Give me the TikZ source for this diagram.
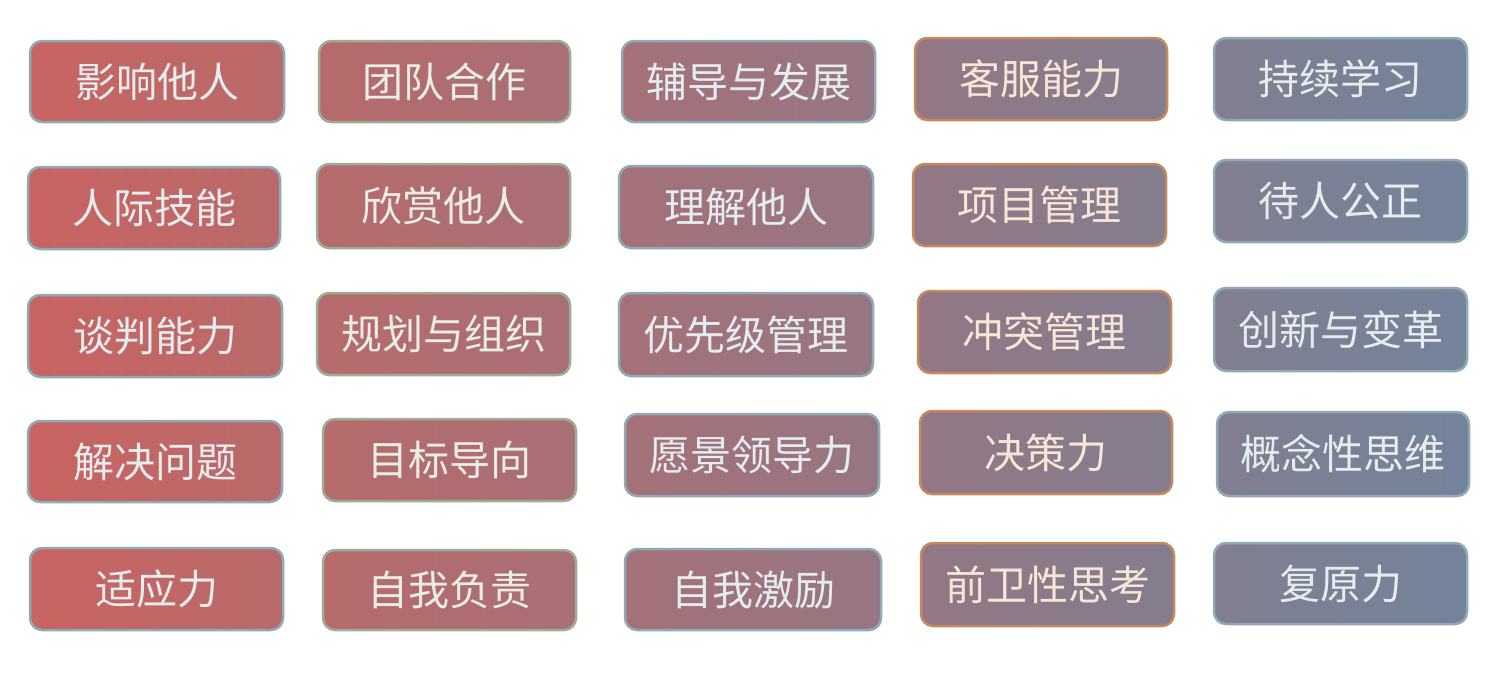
\documentclass[tikz,border=0pt]{standalone}
\usepackage{fontspec}
\newfontfamily\cjk{Noto Sans CJK SC}
\definecolor{gA}{HTML}{C86461}
\definecolor{gB}{HTML}{73839A}
\definecolor{bdBlue}{HTML}{8FAAB2}
\definecolor{bdGreen}{HTML}{9CAD92}
\definecolor{bdOrange}{HTML}{C48A5E}
\definecolor{txBlue}{HTML}{E4ECEE}
\definecolor{txGreen}{HTML}{E8EEE2}
\definecolor{txOrange}{HTML}{F6E6D6}
\tikzset{
  chip/.style={rounded corners=12pt, line width=2.5pt, inner sep=0pt,
    font=\cjk\fontsize{41}{46}\selectfont},
  colA/.style={chip, draw=bdBlue, text=txBlue, left color=gA!100!gB, right color=gA!83!gB},
  colB/.style={chip, draw=bdGreen, text=txGreen, left color=gA!80!gB, right color=gA!63!gB},
  colC/.style={chip, draw=bdBlue, text=txBlue, left color=gA!59!gB, right color=gA!41!gB},
  colD/.style={chip, draw=bdOrange, text=txOrange, left color=gA!38!gB, right color=gA!20!gB},
  colE/.style={chip, draw=bdBlue, text=txBlue, left color=gA!17!gB, right color=gA!0!gB},
}
% \cbox{name}{style}{left}{top}{right}{bottom}{text}
\newcommand{\cbox}[7]{%
  \node[#2, minimum width={#5-#3}, minimum height={#6-#4}] (#1) at ({(#3+#5)/2},{(#4+#6)/2}) {#7};}
\begin{document}
\begin{tikzpicture}[x=1pt,y=-1pt]
\useasboundingbox (0,0) rectangle (1493,673);
% row 1
\cbox{a1}{colA}{30}{41}{284}{122}{影响他人}
\cbox{b1}{colB}{319}{41}{570}{122}{团队合作}
\cbox{c1}{colC}{622}{41}{875}{122}{辅导与发展}
\cbox{d1}{colD}{915}{38}{1167}{120}{客服能力}
\cbox{e1}{colE}{1214}{38}{1467}{120}{持续学习}
% row 2
\cbox{a2}{colA}{28}{167}{280}{249}{人际技能}
\cbox{b2}{colB}{317}{164}{570}{248}{欣赏他人}
\cbox{c2}{colC}{619}{166}{873}{248}{理解他人}
\cbox{d2}{colD}{913}{164}{1166}{246}{项目管理}
\cbox{e2}{colE}{1214}{160}{1467}{242}{待人公正}
% row 3
\cbox{a3}{colA}{28}{295}{282}{377}{谈判能力}
\cbox{b3}{colB}{317}{293}{570}{375}{规划与组织}
\cbox{c3}{colC}{619}{293}{873}{376}{优先级管理}
\cbox{d3}{colD}{918}{291}{1171}{373}{冲突管理}
\cbox{e3}{colE}{1214}{288}{1467}{371}{创新与变革}
% row 4
\cbox{a4}{colA}{28}{421}{282}{502}{解决问题}
\cbox{b4}{colB}{323}{419}{576}{501}{目标导向}
\cbox{c4}{colC}{625}{414}{879}{496}{愿景领导力}
\cbox{d4}{colD}{920}{411}{1172}{494}{决策力}
\cbox{e4}{colE}{1217}{412}{1469}{496}{概念性思维}
% row 5
\cbox{a5}{colA}{30}{548}{283}{630}{适应力}
\cbox{b5}{colB}{323}{550}{576}{630}{自我负责}
\cbox{c5}{colC}{625}{549}{881}{630}{自我激励}
\cbox{d5}{colD}{921}{543}{1174}{626}{前卫性思考}
\cbox{e5}{colE}{1214}{543}{1467}{624}{复原力}
\end{tikzpicture}
\end{document}
